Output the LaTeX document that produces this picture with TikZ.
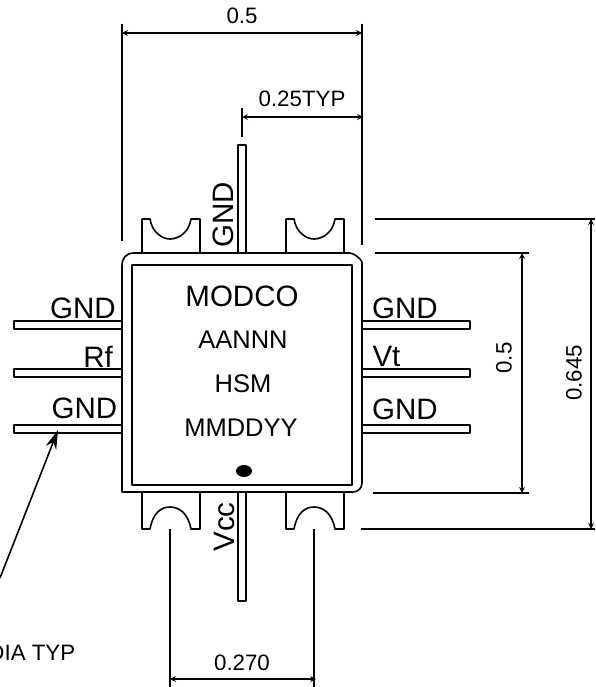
\documentclass[tikz,border=0pt]{standalone}
\usepackage{fontspec}
\setmainfont{Liberation Sans}
\usetikzlibrary{arrows.meta}
\tikzset{
	txtbig/.style={inner sep=0pt,font=\fontsize{29.5}{32}\selectfont},
	txtmid/.style={inner sep=0pt,font=\fontsize{25.5}{28}\selectfont},
	txtdim/.style={inner sep=0pt,font=\fontsize{22.3}{24}\selectfont}
}
\begin{document}
\begin{tikzpicture}[x=1pt,y=-1pt, line join=round, line cap=butt, >=stealth, line width=1.6pt]
	\useasboundingbox (0,0) rectangle (595,687);
	% body
	\draw (122,492)--(122,266) .. controls (122,258) and (126,253) .. (134,253)--(350,253) .. controls (355,254) and (360,258) .. (362,262)--(362,483) .. controls (362,488) and (358,492) .. (353,492)--cycle;
	\draw (132,265) rectangle (352,485);
	\fill (244,471) ellipse (8 and 6);
	% leads
	\foreach \y in {321,369,425}{
		\draw (122,\y)--(14,\y)--(14,\y+8)--(122,\y+8);
		\draw (362,\y)--(470,\y)--(470,\y+8)--(362,\y+8);
	}
	\draw (238,253)--(238,145)--(246,145)--(246,253);
	\draw (238,492)--(238,601)--(246,601)--(246,492);
	% tabs
	\foreach \x in {171,315}{
		\draw (\x-29,253)--(\x-29,219)--(\x-21,219) .. controls (\x-19,232) and (\x-9,239) .. (\x-1,239) .. controls (\x+8,239) and (\x+18,232) .. (\x+20,219)--(\x+29,219)--(\x+29,253);
		\draw (\x-29,492)--(\x-29,529)--(\x-21,529) .. controls (\x-18,513) and (\x-10,507) .. (\x-1,507) .. controls (\x+8,507) and (\x+17,513) .. (\x+20,529)--(\x+29,529)--(\x+29,492);
	}
	% dimensions top
	\draw (122,24)--(122,241);
	\draw (362,24)--(362,245);
	\draw[<->] (122,33)--(362,33);
	\draw (242,108)--(242,137);
	\draw[<->] (242,117)--(363,117);
	% dimensions right
	\draw (375,219)--(595,219);
	\draw (375,253)--(529,253);
	\draw (373,493)--(529,493);
	\draw (361,529)--(595,529);
	\draw[<->] (522,253)--(522,493);
	\draw[<->] (591,219)--(591,529);
	% dimensions bottom
	\draw (170,529)--(170,687);
	\draw (314,529)--(314,687);
	\draw[<->] (170,679)--(316,679);
	% leader
	\draw[-{Stealth[length=19pt,width=11pt]}] (0,578)--(58,430);
	% labels
	\node[txtdim] (lenall) at (242,16) {0.5};
	\node[txtdim] (pitch) at (302,99) {0.25TYP};
	\node[txtdim] (tabgap) at (242,663) {0.270};
	\node[txtdim,rotate=90] (bodyh) at (504,358) {0.5};
	\node[txtdim,rotate=90] (totalh) at (574,373) {0.645};
	\node[txtdim,anchor=east] (dia) at (76,652.5) {DIA TYP};
	\node[txtbig] (gndA) at (83,308) {GND};
	\node[txtbig] (rf) at (98,357) {Rf};
	\node[txtbig] (gndB) at (84.5,408) {GND};
	\node[txtbig] (gndC) at (405,308) {GND};
	\node[txtbig] (vt) at (386.5,356) {Vt};
	\node[txtbig] (gndD) at (405,409) {GND};
	\node[txtbig,rotate=90] (gndE) at (223.5,215) {GND};
	\node[txtbig,rotate=90] (vcc) at (224,527) {Vcc};
	\node[txtbig] (modco) at (242,296) {MODCO};
	\node[txtmid] (lot) at (243,340) {AANNN};
	\node[txtmid] (hsm) at (243,384) {HSM};
	\node[txtmid] (date) at (241,428) {MMDDYY};
\end{tikzpicture}
\end{document}
